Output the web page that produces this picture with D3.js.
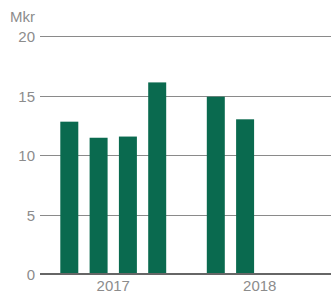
<!DOCTYPE html>
<html>
<head>
	<style>
		body { margin: 0; background: #fff; }
		text { font-family: "Liberation Sans", Arial, sans-serif; fill: #8c8c8c; }
	</style>
</head>
<body>
	<div id="chart"></div>
	<script src="https://cdn.jsdelivr.net/npm/d3@7/dist/d3.min.js"></script>
	<script>
		const years = ['2017', '2018'];
		const quarters = ['Q1', 'Q2', 'Q3', 'Q4'];
		const values2017 = [12.8, 11.45, 11.55, 16.1];
		const values2018 = [14.9, 13.0];
		const yTicks = [0, 5, 10, 15, 20];

		const width = 331, height = 293;
		const margin = { top: 36, right: -2, bottom: 19, left: 40 };

		const data = [];
		values2017.forEach((v, i) => data.push({ year: '2017', q: quarters[i], v }));
		values2018.forEach((v, i) => data.push({ year: '2018', q: quarters[i], v }));

		const svg = d3.select('#chart').append('svg')
			.attr('width', width)
			.attr('height', height);

		const x0 = d3.scaleBand()
			.domain(years)
			.range([margin.left, width - margin.right])
			.paddingInner(0.2)
			.paddingOuter(0.1);

		const x1 = d3.scaleBand()
			.domain(quarters)
			.range([0, x0.bandwidth()])
			.paddingInner(0.386)
			.paddingOuter(0.193);

		const y = d3.scaleLinear()
			.domain([0, 20])
			.range([height - margin.bottom, margin.top]);

		// gridlines
		svg.append('g').selectAll('line')
			.data(yTicks.filter(d => d > 0))
			.join('line')
			.attr('x1', margin.left)
			.attr('x2', width)
			.attr('y1', d => Math.round(y(d)) + 0.5)
			.attr('y2', d => Math.round(y(d)) + 0.5)
			.attr('stroke', '#8a8a8a')
			.attr('stroke-width', 1);

		// y labels
		svg.append('g').selectAll('text')
			.data(yTicks)
			.join('text')
			.attr('x', 35)
			.attr('y', d => y(d))
			.attr('dy', '0.4em')
			.attr('text-anchor', 'end')
			.attr('font-size', 15)
			.text(d => d);

		svg.append('text')
			.attr('x', 35)
			.attr('y', 22)
			.attr('text-anchor', 'end')
			.attr('font-size', 15)
			.text('Mkr');

		// bars
		svg.append('g').selectAll('rect')
			.data(data)
			.join('rect')
			.attr('x', d => x0(d.year) + x1(d.q))
			.attr('y', d => y(d.v))
			.attr('width', x1.bandwidth())
			.attr('height', d => y(0) - y(d.v))
			.attr('fill', '#0a6a4f');

		// zero line
		svg.append('line')
			.attr('x1', margin.left)
			.attr('x2', width)
			.attr('y1', y(0))
			.attr('y2', y(0))
			.attr('stroke', '#666')
			.attr('stroke-width', 2);

		// year labels
		svg.append('g').selectAll('text')
			.data(years)
			.join('text')
			.attr('x', d => x0(d) + x0.bandwidth() / 2)
			.attr('y', 291)
			.attr('text-anchor', 'middle')
			.attr('font-size', 15)
			.text(d => d);
	</script>
</body>
</html>
